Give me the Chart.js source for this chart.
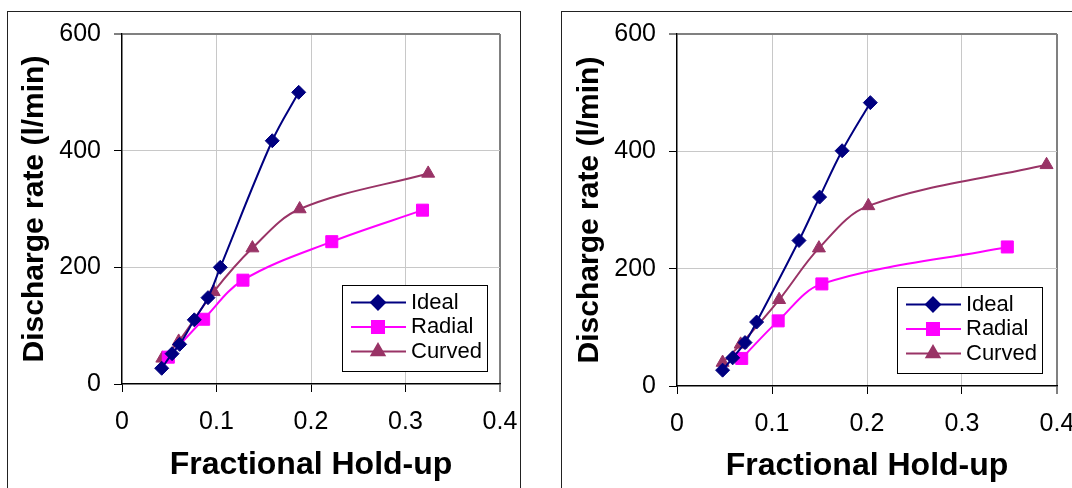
<!DOCTYPE html>
<html>
<head>
<meta charset="utf-8">
<script src="https://cdn.jsdelivr.net/npm/chart.js@4"></script>
<style>
body{margin:0;width:1072px;height:488px;overflow:hidden;background:#fff;position:relative}
.frame{position:absolute;border:1.5px solid #222;box-sizing:border-box}
canvas{position:absolute;top:0}
</style>
</head>
<body>

<div class="frame" style="left:7px;top:11px;width:514px;height:520px"></div>
<div class="frame" style="left:561px;top:11px;width:600px;height:520px"></div>

<canvas id="leftChart" width="536" height="488" style="left:0"></canvas>
<canvas id="rightChart" width="560" height="488" style="left:536px"></canvas>

<script>
/* ---------------- DATA ---------------- */

const seriesNames = ["Ideal","Radial","Curved"]
const xTicks = [0,0.1,0.2,0.3,0.4]
const yTicks = [0,200,400,600]

// left panel
const idealHoldupL = [0.042,0.053,0.061,0.0765,0.091,0.104,0.159,0.187]
const idealRateL = [27,52,68,110,148,200,417,500]
const radialHoldupL = [0.049,0.0864,0.128,0.222,0.318]
const radialRateL = [46,111,178,244,298]
const curvedHoldupL = [0.0427,0.060,0.097,0.138,0.188,0.324]
const curvedRateL = [44,73,158,233,300,361]

// right panel
const idealHoldupR = [0.048,0.0586,0.0716,0.0838,0.1284,0.1501,0.1738,0.2035]
const idealRateR = [27,48,74,109,248,322,401,483]
const radialHoldupR = [0.0681,0.1065,0.1525,0.3477]
const radialRateR = [47,111,174,237]
const curvedHoldupR = [0.048,0.067,0.1075,0.1494,0.2014,0.389]
const curvedRateR = [40,71,147,235,307,377]


/* ---------------- HELPERS ---------------- */

const FONT = "Arial, 'Liberation Sans', sans-serif"

const pairs = (xs,ys) => xs.map((x,i) => ({x:x,y:ys[i]}))

const styles = [
{color:"#000080",point:"rectRot",radius:7},
{color:"#ff00ff",point:"rect",radius:8.5},
{color:"#993366",point:"triangle",radius:7.5}
]

function makeDatasets(sets){
return sets.map((s,i) => ({
label:seriesNames[i],
data:pairs(s[0],s[1]),
borderColor:styles[i].color,
backgroundColor:styles[i].color,
pointBackgroundColor:styles[i].color,
pointBorderColor:styles[i].color,
pointStyle:styles[i].point,
pointRadius:styles[i].radius,
pointBorderWidth:1,
borderWidth:2,
tension:0.35,
clip:false
}))
}

// legend box drawn inside the plot, like the spreadsheet one
const boxLegend = {
id:"boxLegend",
afterDraw(chart,args,opts){
const ctx = chart.ctx
ctx.save()
ctx.fillStyle = "#fff"
ctx.fillRect(opts.x,opts.y,opts.w,opts.h)
ctx.strokeStyle = "#000"
ctx.lineWidth = 1
ctx.strokeRect(opts.x+0.5,opts.y+0.5,opts.w,opts.h)
chart.data.datasets.forEach((ds,i) => {
const y = opts.y + 17.5 + i*24.5
ctx.strokeStyle = ds.borderColor
ctx.lineWidth = 2
ctx.beginPath()
ctx.moveTo(opts.x+9,y)
ctx.lineTo(opts.x+64,y)
ctx.stroke()
ctx.fillStyle = ds.pointBackgroundColor
Chart.helpers.drawPoint(ctx,{pointStyle:ds.pointStyle,radius:ds.pointRadius,borderWidth:1,rotation:0},opts.x+36,y)
ctx.fillStyle = "#000"
ctx.font = "22px " + FONT
ctx.textBaseline = "middle"
ctx.textAlign = "left"
ctx.fillText(ds.label,opts.x+69,y)
})
ctx.restore()
}
}

function makeChart(id,sets,lay){
return new Chart(document.getElementById(id),{
type:"line",
data:{datasets:makeDatasets(sets)},
plugins:[boxLegend],
options:{
responsive:false,
animation:false,
layout:{padding:{left:0,top:34,right:lay.padRight,bottom:0}},
plugins:{
legend:{display:false},
tooltip:{enabled:false},
boxLegend:lay.legend
},
scales:{
x:{
type:"linear",
min:0,
max:0.4,
afterBuildTicks:s => { s.ticks = xTicks.map(v => ({value:v})) },
afterFit:s => { s.height = lay.xHeight },
ticks:{
color:"#000",
font:{family:FONT,size:25},
padding:15,
maxRotation:0,
callback:v => String(+v.toFixed(1))
},
grid:{
color:c => c.tick.value === 0 ? "rgba(0,0,0,0)" : (c.tick.value === 0.4 ? "#808080" : "#c8c8c8"),
lineWidth:c => c.tick.value === 0.4 ? 2 : 1,
tickLength:8,
tickColor:"#000",
tickWidth:1
},
border:{color:"#000",width:1.5},
title:{
display:true,
text:"Fractional Hold-up",
color:"#000",
font:{family:FONT,size:32,weight:"bold",lineHeight:1},
padding:{top:0,bottom:lay.xTitlePad}
}
},
y:{
min:0,
max:600,
afterBuildTicks:s => { s.ticks = yTicks.map(v => ({value:v})) },
afterFit:s => { s.width = lay.yWidth },
ticks:{
color:"#000",
font:{family:FONT,size:25},
padding:13
},
grid:{
color:c => c.tick.value === 0 ? "rgba(0,0,0,0)" : (c.tick.value === 600 ? "#808080" : "#c8c8c8"),
lineWidth:c => c.tick.value === 600 ? 2 : 1,
tickLength:8,
tickColor:"#000",
tickWidth:1
},
border:{color:"#000",width:1.5},
title:{
display:true,
text:"Discharge rate (l/min)",
color:"#000",
font:{family:FONT,size:30,weight:"bold",lineHeight:1},
padding:{top:lay.yTitlePad,bottom:0}
}
}
}
}
})
}


/* ---------------- CHARTS ---------------- */

makeChart("leftChart",
[[idealHoldupL,idealRateL],[radialHoldupL,radialRateL],[curvedHoldupL,curvedRateL]],
{padRight:36,xHeight:104,yWidth:122,xTitlePad:7,yTitlePad:20,legend:{x:342,y:285,w:145,h:86}})

makeChart("rightChart",
[[idealHoldupR,idealRateR],[radialHoldupR,radialRateR],[curvedHoldupR,curvedRateR]],
{padRight:39,xHeight:102,yWidth:141,xTitlePad:6,yTitlePad:39,legend:{x:361,y:287,w:145,h:86}})
</script>
</body>
</html>
